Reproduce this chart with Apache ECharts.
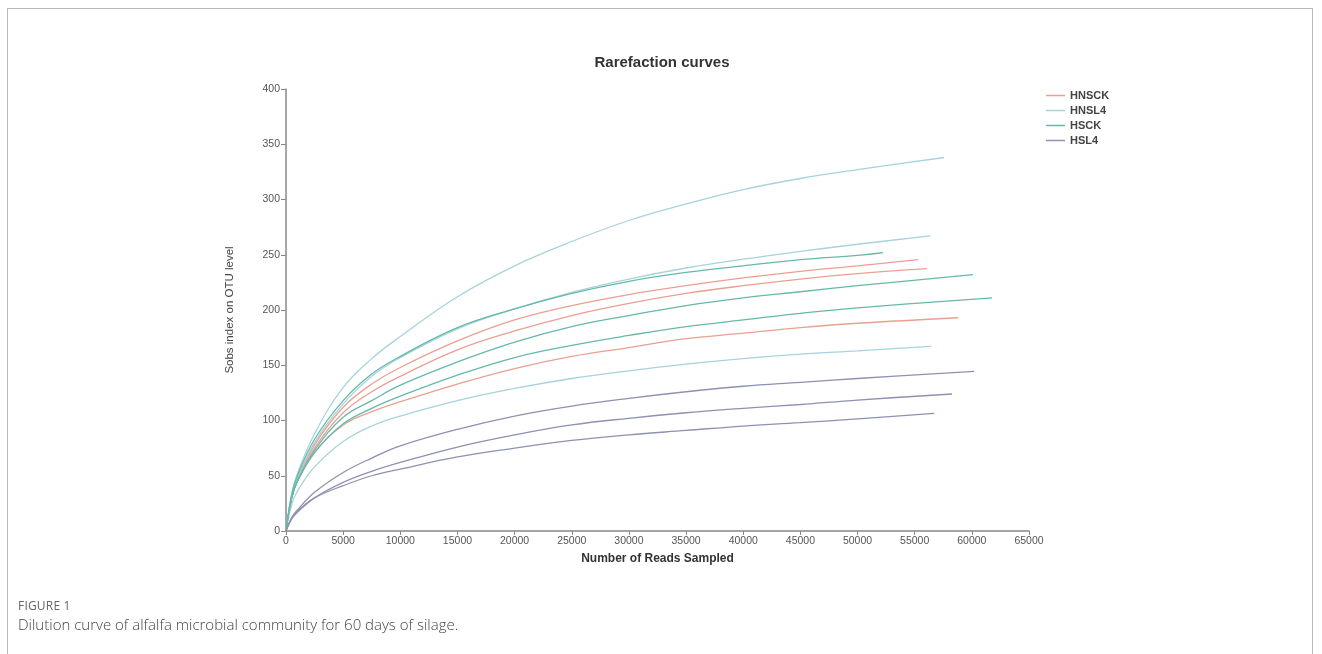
<!DOCTYPE html>
<html>
<head>
<meta charset="utf-8">
<script src="https://cdn.jsdelivr.net/npm/echarts@6/dist/echarts.min.js"></script>
<style>
  html, body { margin: 0; padding: 0; background: #fff; }
  #frame {
    position: absolute; left: 7px; top: 8px; width: 1306px; height: 660px;
    border: 1px solid #b8b8b8; border-bottom: none; box-sizing: border-box;
  }
  #chart { position: absolute; left: 0; top: 0; width: 1322px; height: 654px; }
  .cap { position: absolute; left: 18px; font-family: "Open Sans", "Noto Sans", sans-serif; }
  #figno { top: 597px; font-size: 12px; color: #666; letter-spacing: 0.2px; }
  #figtxt { top: 614px; font-size: 15px; color: #444; font-weight: 300; }
</style>
</head>
<body>
<div id="frame"></div>
<div id="chart"></div>
<div class="cap" id="figno">FIGURE 1</div>
<div class="cap" id="figtxt">Dilution curve of alfalfa microbial community for 60 days of silage.</div>
<script>
const readSteps = [0, 500, 1000, 2500, 5000, 7500, 10000, 15000, 20000, 25000, 30000, 35000, 40000, 45000, 50000];

// sobs values at readSteps, one array per sample
const hnsck1 = [0, 31, 47, 78, 112, 133, 148, 172, 191, 204, 214, 222, 229, 235, 240];
const hnsck2 = [0, 30, 46, 75, 107, 126, 140, 164, 181, 195, 206, 215, 222, 228, 233];
const hnsck3 = [0, 30, 45, 71, 96, 108, 117, 133, 147, 158, 166, 174, 179, 184, 188];
const hnsl4a = [0, 34, 52, 88, 130, 156, 176, 212, 240, 262, 281, 296, 309, 319, 327];
const hnsl4b = [0, 32, 48, 80, 115, 140, 157, 183, 201, 216, 228, 238, 246, 253, 259.5];
const hnsl4c = [0, 24, 36, 58, 81, 95, 104, 118, 129, 138, 145, 151, 156, 160, 163];
const hsck1 = [0, 33, 50, 83, 118, 142, 158, 184, 201, 215, 226, 234, 240, 245.5, 249.5];
const hsck2 = [0, 30, 45, 73, 103, 118, 132, 153, 171, 185, 195, 204, 211, 216.5, 222];
const hsck3 = [0, 30, 45, 71, 97, 111, 122, 141, 157, 168, 177, 185, 191, 197, 202];
const hsl4a = [0, 12, 19, 35, 53, 66, 77, 92, 104, 113, 120, 126, 131, 134.5, 138];
const hsl4b = [0, 11, 17, 30, 44, 54, 62, 76, 87, 96, 102, 107, 111, 114.5, 118.5];
const hsl4c = [0, 12, 18, 30, 41, 50, 56, 67, 75, 82, 87, 91, 95, 98, 101.5];

// last point of each curve [reads, sobs]
const hnsckEnds = [[55300, 245.6], [56090, 237.5], [58800, 193]];
const hnsl4Ends = [[57575, 338], [56350, 267], [56440, 167]];
const hsckEnds = [[52240, 252], [60100, 232], [61770, 211]];
const hsl4Ends = [[60200, 144.5], [58270, 124], [56700, 106.5]];

const groupNames = ['HNSCK', 'HNSL4', 'HSCK', 'HSL4'];
const groupColors = ['#e9a092', '#a6d3dc', '#66b9aa', '#9090b2'];
const xTicks = { min: 0, max: 65000, step: 5000 };
const yTicks = { min: 0, max: 400, step: 50 };

const groupCurves = [
  [hnsck1, hnsck2, hnsck3],
  [hnsl4a, hnsl4b, hnsl4c],
  [hsck1, hsck2, hsck3],
  [hsl4a, hsl4b, hsl4c]
];
const groupEnds = [hnsckEnds, hnsl4Ends, hsckEnds, hsl4Ends];

const series = [];
groupNames.forEach(function (name, g) {
  groupCurves[g].forEach(function (vals, i) {
    const pts = readSteps.map(function (x, k) { return [x, vals[k]]; });
    pts.push(groupEnds[g][i]);
    series.push({
      name: name,
      type: 'line',
      data: pts,
      symbol: 'none',
      smooth: 0.4,
      lineStyle: { color: groupColors[g], width: 1.3 },
      itemStyle: { color: groupColors[g] },
      emphasis: { disabled: true }
    });
  });
});

const myChart = echarts.init(document.getElementById('chart'));
const axisFont = 'Arial, "Liberation Sans", sans-serif';
const option = {
  animation: false,
  title: {
    text: 'Rarefaction curves',
    left: 657,
    top: 50,
    textAlign: 'center',
    textStyle: { fontFamily: axisFont, fontSize: 15, fontWeight: 'bold', color: '#333' }
  },
  legend: {
    data: groupNames,
    orient: 'vertical',
    left: 1041,
    top: 85,
    icon: 'rect',
    itemWidth: 19,
    itemHeight: 1.5,
    itemGap: 4,
    textStyle: { fontFamily: axisFont, fontSize: 11, fontWeight: 'bold', color: '#444' }
  },
  grid: { left: 286, right: 293, top: 89, bottom: 123 },
  xAxis: {
    type: 'value',
    min: xTicks.min,
    max: xTicks.max,
    interval: xTicks.step,
    name: 'Number of Reads Sampled',
    nameLocation: 'middle',
    nameGap: 22,
    nameTextStyle: { fontFamily: axisFont, fontSize: 12, fontWeight: 'bold', color: '#333' },
    splitLine: { show: false },
    axisLine: { lineStyle: { color: '#888', width: 1.5 } },
    axisTick: { length: 4, lineStyle: { color: '#888' } },
    axisLabel: {
      fontFamily: axisFont, fontSize: 10.5, color: '#555', margin: 5,
      formatter: function (v) { return String(v); }
    }
  },
  yAxis: {
    type: 'value',
    min: yTicks.min,
    max: yTicks.max,
    interval: yTicks.step,
    name: 'Sobs index on OTU level',
    nameLocation: 'middle',
    nameGap: 50,
    nameTextStyle: { fontFamily: axisFont, fontSize: 11.5, color: '#444' },
    splitLine: { show: false },
    axisLine: { show: true, lineStyle: { color: '#888', width: 1.5 } },
    axisTick: { show: true, length: 5, lineStyle: { color: '#888' } },
    axisLabel: { fontFamily: axisFont, fontSize: 10.5, color: '#555', margin: 6 }
  },
  series: series
};
myChart.setOption(option);
</script>
</body>
</html>
